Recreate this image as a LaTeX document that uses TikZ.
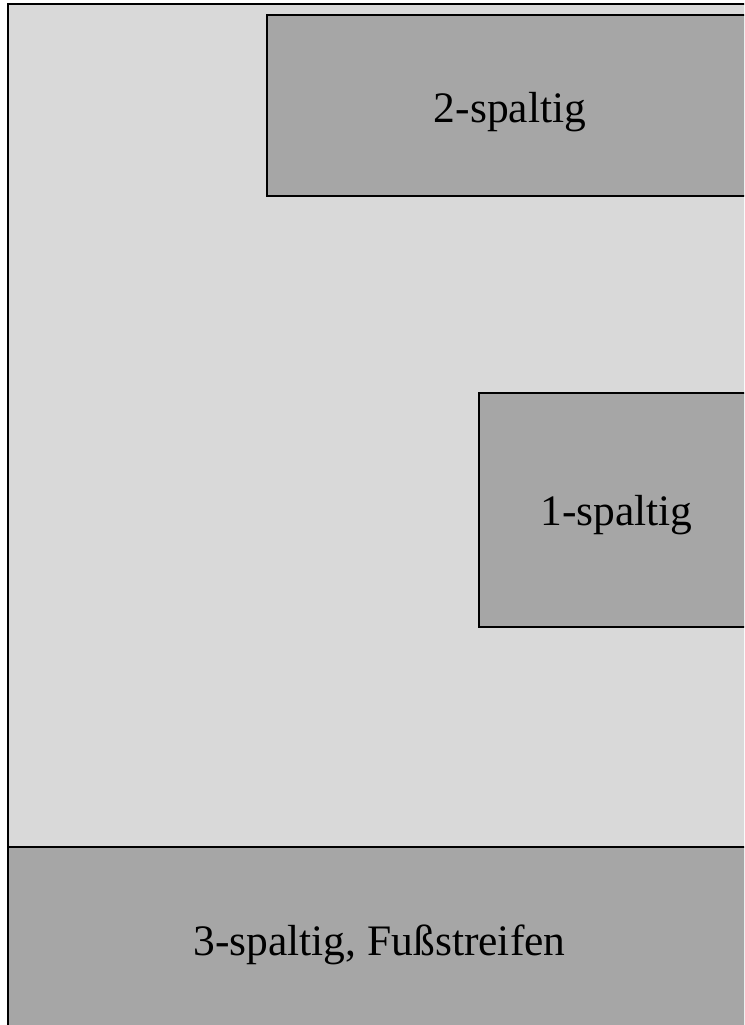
\documentclass[tikz,border=0pt]{standalone}
\usepackage{fontspec}
\setmainfont{Liberation Serif}
\definecolor{lightfill}{HTML}{D9D9D9}
\definecolor{darkfill}{HTML}{A6A6A6}
\begin{document}
\begin{tikzpicture}[x=1pt,y=-1pt,
  frame/.style={draw=black,line width=1.3pt,fill=lightfill},
  block/.style={draw=black,line width=1.1pt,fill=darkfill},
  lbl/.style={font=\fontsize{43.5}{52}\selectfont,text=black,inner sep=0pt,anchor=base}]
\useasboundingbox (0,0) rectangle (744,1025);
\clip (0,0) rectangle (744,1025);
\fill[white] (0,0) rectangle (744,1025);
\draw[frame] (8,4) rectangle (790,1060);
\draw[block] (267,15) rectangle (759,196);
\draw[block] (479,393) rectangle (755,627);
\draw[block] (8,847) rectangle (802,1040);
\node[lbl] (two) at (510,122) {2-spaltig};
\node[lbl] (one) at (616.5,525) {1-spaltig};
\node[lbl] (three) at (379.5,955) {3-spaltig, Fußstreifen};
\end{tikzpicture}
\end{document}
